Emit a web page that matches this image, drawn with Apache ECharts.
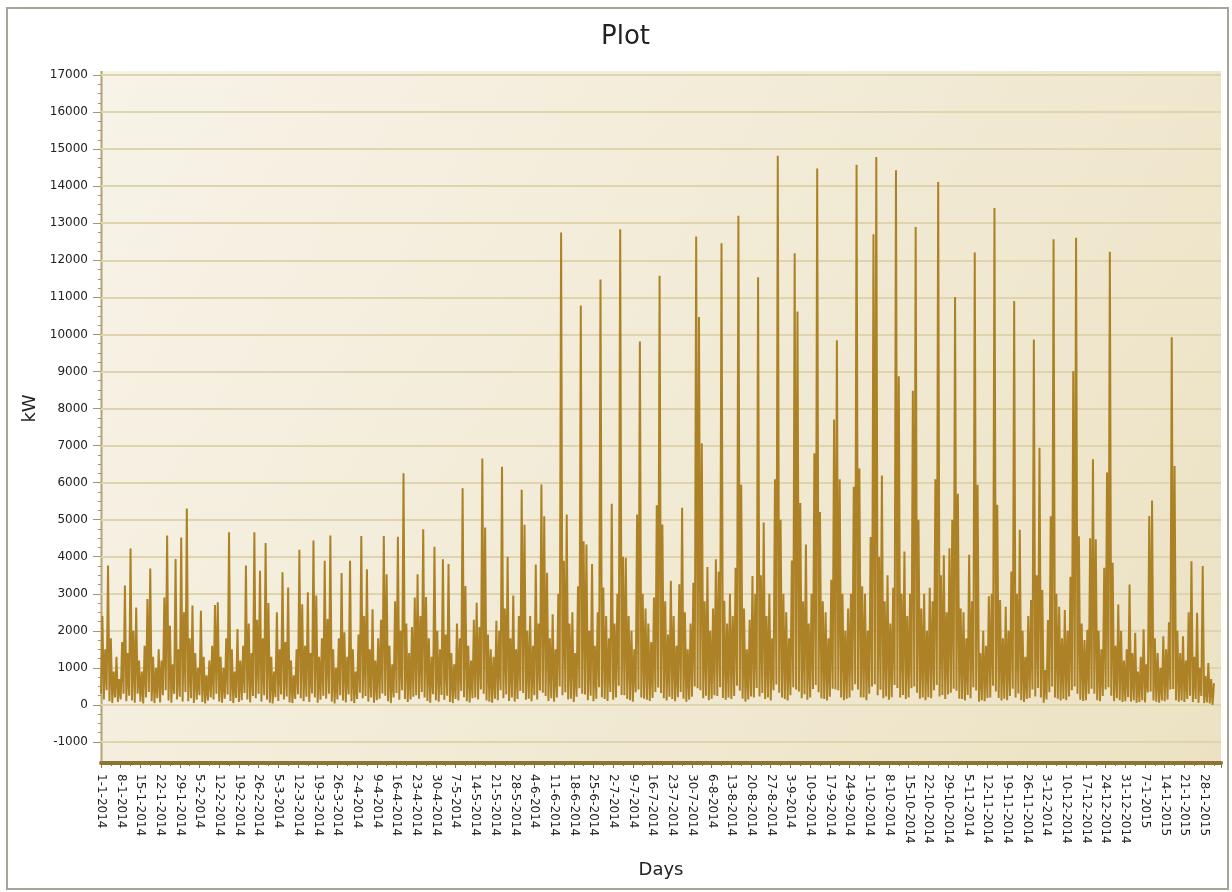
<!DOCTYPE html>
<html>
<head>
<meta charset="utf-8">
<script src="https://cdn.jsdelivr.net/npm/echarts@6.0.0/dist/echarts.min.js"></script>
<style>
html,body{margin:0;padding:0;background:#ffffff;}
#chart{width:1232px;height:892px;}
</style>
</head>
<body>
<div id="chart"></div>
<script>
// Weekly tick labels (x axis), one per 7 days starting 1-1-2014
const weekLabels = [
  '1-1-2014','8-1-2014','15-1-2014','22-1-2014','29-1-2014',
  '5-2-2014','12-2-2014','19-2-2014','26-2-2014',
  '5-3-2014','12-3-2014','19-3-2014','26-3-2014',
  '2-4-2014','9-4-2014','16-4-2014','23-4-2014','30-4-2014',
  '7-5-2014','14-5-2014','21-5-2014','28-5-2014',
  '4-6-2014','11-6-2014','18-6-2014','25-6-2014',
  '2-7-2014','9-7-2014','16-7-2014','23-7-2014','30-7-2014',
  '6-8-2014','13-8-2014','20-8-2014','27-8-2014',
  '3-9-2014','10-9-2014','17-9-2014','24-9-2014',
  '1-10-2014','8-10-2014','15-10-2014','22-10-2014','29-10-2014',
  '5-11-2014','12-11-2014','19-11-2014','26-11-2014',
  '3-12-2014','10-12-2014','17-12-2014','24-12-2014','31-12-2014',
  '7-1-2015','14-1-2015','21-1-2015','28-1-2015'
];

// Daily peak load (kW), day 0 = 1-1-2014
const dailyPeak = [
  2400,1500,3760,1800,900,1300,700,1700,3220,1400,
  4220,2000,2630,1200,900,1600,2860,3680,1300,1000,
  1500,1200,2900,4570,2140,1100,3940,1500,4520,2500,
  5300,1800,2680,1400,1000,2540,1300,800,1200,1600,
  2700,2770,1300,1000,1800,4660,1500,900,2050,1200,
  1600,3760,2200,1400,4660,2300,3620,1800,4370,2750,
  1300,900,2500,1500,3580,1700,3170,1200,800,1500,
  4190,2720,1600,3040,1400,4440,2950,1300,1800,3890,
  2320,4570,1500,1000,1800,3560,1960,1300,3890,1500,
  900,1900,4560,2400,3660,1500,2580,1200,1800,2300,
  4560,3530,1600,1100,2800,4540,2000,6250,2200,1400,
  2100,2900,3530,2400,4740,2910,1800,1300,4270,2000,
  1500,3930,1900,3800,1400,1100,2200,1800,5850,3210,
  1600,1200,2300,2760,2100,6650,4790,1900,1500,1300,
  2270,2000,6430,2600,4000,1800,2950,1500,2400,5810,
  4860,2000,2400,1600,3790,2200,5950,5090,3570,1800,
  2450,1500,3000,12750,3890,5140,2200,2500,1400,3200,
  10780,4420,4330,2000,3800,1600,2500,11480,3170,2400,
  1800,5430,2200,3000,12840,4000,3970,2400,2000,1500,
  5140,9810,3000,2600,2200,1700,2900,5390,11580,4870,
  2800,1900,3350,2400,1600,3260,5320,2500,1500,2200,
  3300,12640,10470,7060,2800,3720,2000,2600,3930,3600,
  12460,2810,2200,3000,2400,3700,13200,5940,2600,1500,
  2300,3480,3000,11540,3500,4920,2400,3000,1800,6090,
  14820,5000,3000,2500,1800,3900,12190,10620,5450,2800,
  4330,2200,3000,6790,14480,5210,2800,2500,1800,3380,
  7700,9840,6090,3000,2000,2600,3000,5890,14580,6380,
  3200,3000,2000,4530,12700,14790,4000,6190,2800,3500,
  2200,3160,14430,8870,3000,4140,2400,3000,8480,12900,
  5000,2600,3000,2000,3160,2800,6090,14110,3500,4040,
  2500,4230,5000,11010,5700,2600,2500,1800,4050,2800,
  12210,5940,1400,2000,1600,2930,3000,13410,5400,2830,
  1800,2650,2000,3600,10900,3000,4730,2000,1300,2400,
  2830,9860,3500,6940,3100,940,2290,5090,12570,3000,
  2650,1800,2560,2000,3460,9010,12610,4550,2200,1750,
  2030,4500,6630,4470,2000,1500,3700,6270,12230,3840,
  1600,2710,2000,1200,1500,3250,1400,1950,900,1300,
  2040,1100,5100,5520,1800,1400,1000,1850,1500,2230,
  9920,6450,2000,1400,1850,1200,2500,3880,1300,2490,
  1000,3750,780,1130,700,590
];

// Daily minimum load (kW)
const dailyLow = [
  300,150,400,100,50,200,80,150,300,100,
  250,120,60,300,90,40,200,350,100,50,
  180,70,260,400,120,60,300,150,220,90,
  350,100,180,50,140,260,80,40,120,200,
  150,300,90,60,170,280,110,50,190,80,
  130,320,150,70,240,180,300,90,260,140,
  60,40,210,110,280,150,230,70,50,160,
  290,180,100,220,80,310,200,60,140,250,
  170,300,90,40,150,260,120,70,280,100,
  50,160,330,180,240,90,200,60,130,170,
  310,250,100,50,200,320,140,400,160,80,
  150,220,260,170,350,200,110,60,290,130,
  90,270,140,250,80,50,160,120,380,210,
  100,70,180,200,150,420,300,120,90,60,
  170,130,400,180,280,110,200,90,160,380,
  320,140,170,100,260,150,390,330,240,110,
  180,90,200,500,260,340,150,170,80,220,
  450,300,280,130,250,100,170,480,210,160,
  110,350,140,200,520,270,260,160,130,90,
  340,420,200,170,140,110,190,350,470,320,
  180,120,220,160,100,210,350,170,90,140,
  220,500,450,400,180,250,130,170,260,240,
  480,190,140,200,160,240,520,380,170,90,
  150,230,200,460,230,320,160,200,120,400,
  550,330,200,160,120,260,480,420,360,180,
  290,140,200,430,540,340,180,160,120,220,
  440,420,400,200,130,170,200,390,560,420,
  210,200,130,300,500,560,260,410,180,230,
  140,210,540,460,200,270,160,200,450,500,
  330,170,200,130,210,180,400,540,230,270,
  160,280,330,440,380,170,160,120,270,180,
  480,390,90,130,100,190,200,520,360,190,
  120,170,130,240,440,200,310,130,80,160,
  190,420,230,460,200,60,150,340,500,200,
  170,120,170,130,230,400,500,300,140,110,
  130,300,440,300,130,100,240,420,480,250,
  100,180,130,80,100,210,90,130,60,80,
  130,70,340,360,120,90,60,120,100,150,
  420,430,130,90,120,80,160,250,80,160,
  60,240,50,70,40,0
];

const seriesData = [];
for (let d = 0; d < dailyPeak.length; d++) {
  seriesData.push([d, dailyLow[d]]);
  seriesData.push([d + 0.5, dailyPeak[d]]);
}

const chart = echarts.init(document.getElementById('chart'), null, { renderer: 'canvas' });
const FONT = 'DejaVu Sans';

chart.setOption({
  animation: false,
  backgroundColor: '#ffffff',
  title: {
    text: 'Plot',
    left: 596,
    top: 19,
    textStyle: { fontFamily: FONT, fontSize: 26, fontWeight: 'normal', color: '#222222' }
  },
  grid: { left: 101, right: 11, top: 75, bottom: 150, containLabel: false },
  xAxis: {
    type: 'value',
    min: 0,
    max: 398,
    interval: 7,
    offset: 21,
    name: 'Days',
    nameLocation: 'middle',
    nameGap: 98,
    nameTextStyle: { fontFamily: FONT, fontSize: 18, color: '#222222' },
    axisLine: { show: true, onZero: false, lineStyle: { color: '#8a7533', width: 4 } },
    axisTick: { show: true, length: 5, lineStyle: { color: '#8a7533', width: 1 } },
    minorTick: { show: true, splitNumber: 2, length: 3, lineStyle: { color: '#8a7533' } },
    splitLine: { show: false },
    axisLabel: {
      rotate: -90,
      margin: 11,
      fontFamily: FONT,
      fontSize: 12,
      color: '#222222',
      formatter: function (v) {
        if (v % 7 !== 0) return '';
        const lab = weekLabels[v / 7];
        return lab === undefined ? '' : lab;
      }
    }
  },
  yAxis: {
    type: 'value',
    min: -1000,
    max: 17000,
    interval: 1000,
    name: 'kW',
    nameLocation: 'middle',
    nameGap: 58,
    nameRotate: 90,
    nameTextStyle: { fontFamily: FONT, fontSize: 18, color: '#222222' },
    axisLine: { show: false },
    axisTick: { show: true, length: 8, lineStyle: { color: '#a4956a', width: 1 } },
    minorTick: { show: true, splitNumber: 4, length: 3, lineStyle: { color: '#a4956a' } },
    splitLine: { show: true, lineStyle: { color: '#dfd4ae', width: 2 } },
    axisLabel: {
      margin: 13, fontFamily: FONT, fontSize: 12, color: '#222222',
      formatter: function (v) { return String(v); }
    }
  },
  graphic: [
    {
      type: 'rect',
      z: -10,
      silent: true,
      shape: { x: 101, y: 71, width: 1120, height: 692 },
      style: {
        fill: new echarts.graphic.LinearGradient(0, 0, 1, 1, [
          { offset: 0, color: '#f7f3e8' },
          { offset: 1, color: '#ece2c3' }
        ])
      }
    },
    {
      type: 'line',
      silent: true,
      shape: { x1: 101.5, y1: 71, x2: 101.5, y2: 763 },
      style: { stroke: '#b2a477', lineWidth: 2 }
    },
    {
      type: 'rect',
      silent: true,
      shape: { x: 7, y: 8, width: 1221, height: 881 },
      style: { fill: null, stroke: '#a8a398', lineWidth: 2 }
    }
  ],
  series: [
    {
      type: 'line',
      data: seriesData,
      showSymbol: false,
      symbol: 'none',
      sampling: null,
      lineStyle: { color: '#ad8226', width: 2 },
      itemStyle: { color: '#ad8226' },
      z: 3
    }
  ]
});
</script>
</body>
</html>
